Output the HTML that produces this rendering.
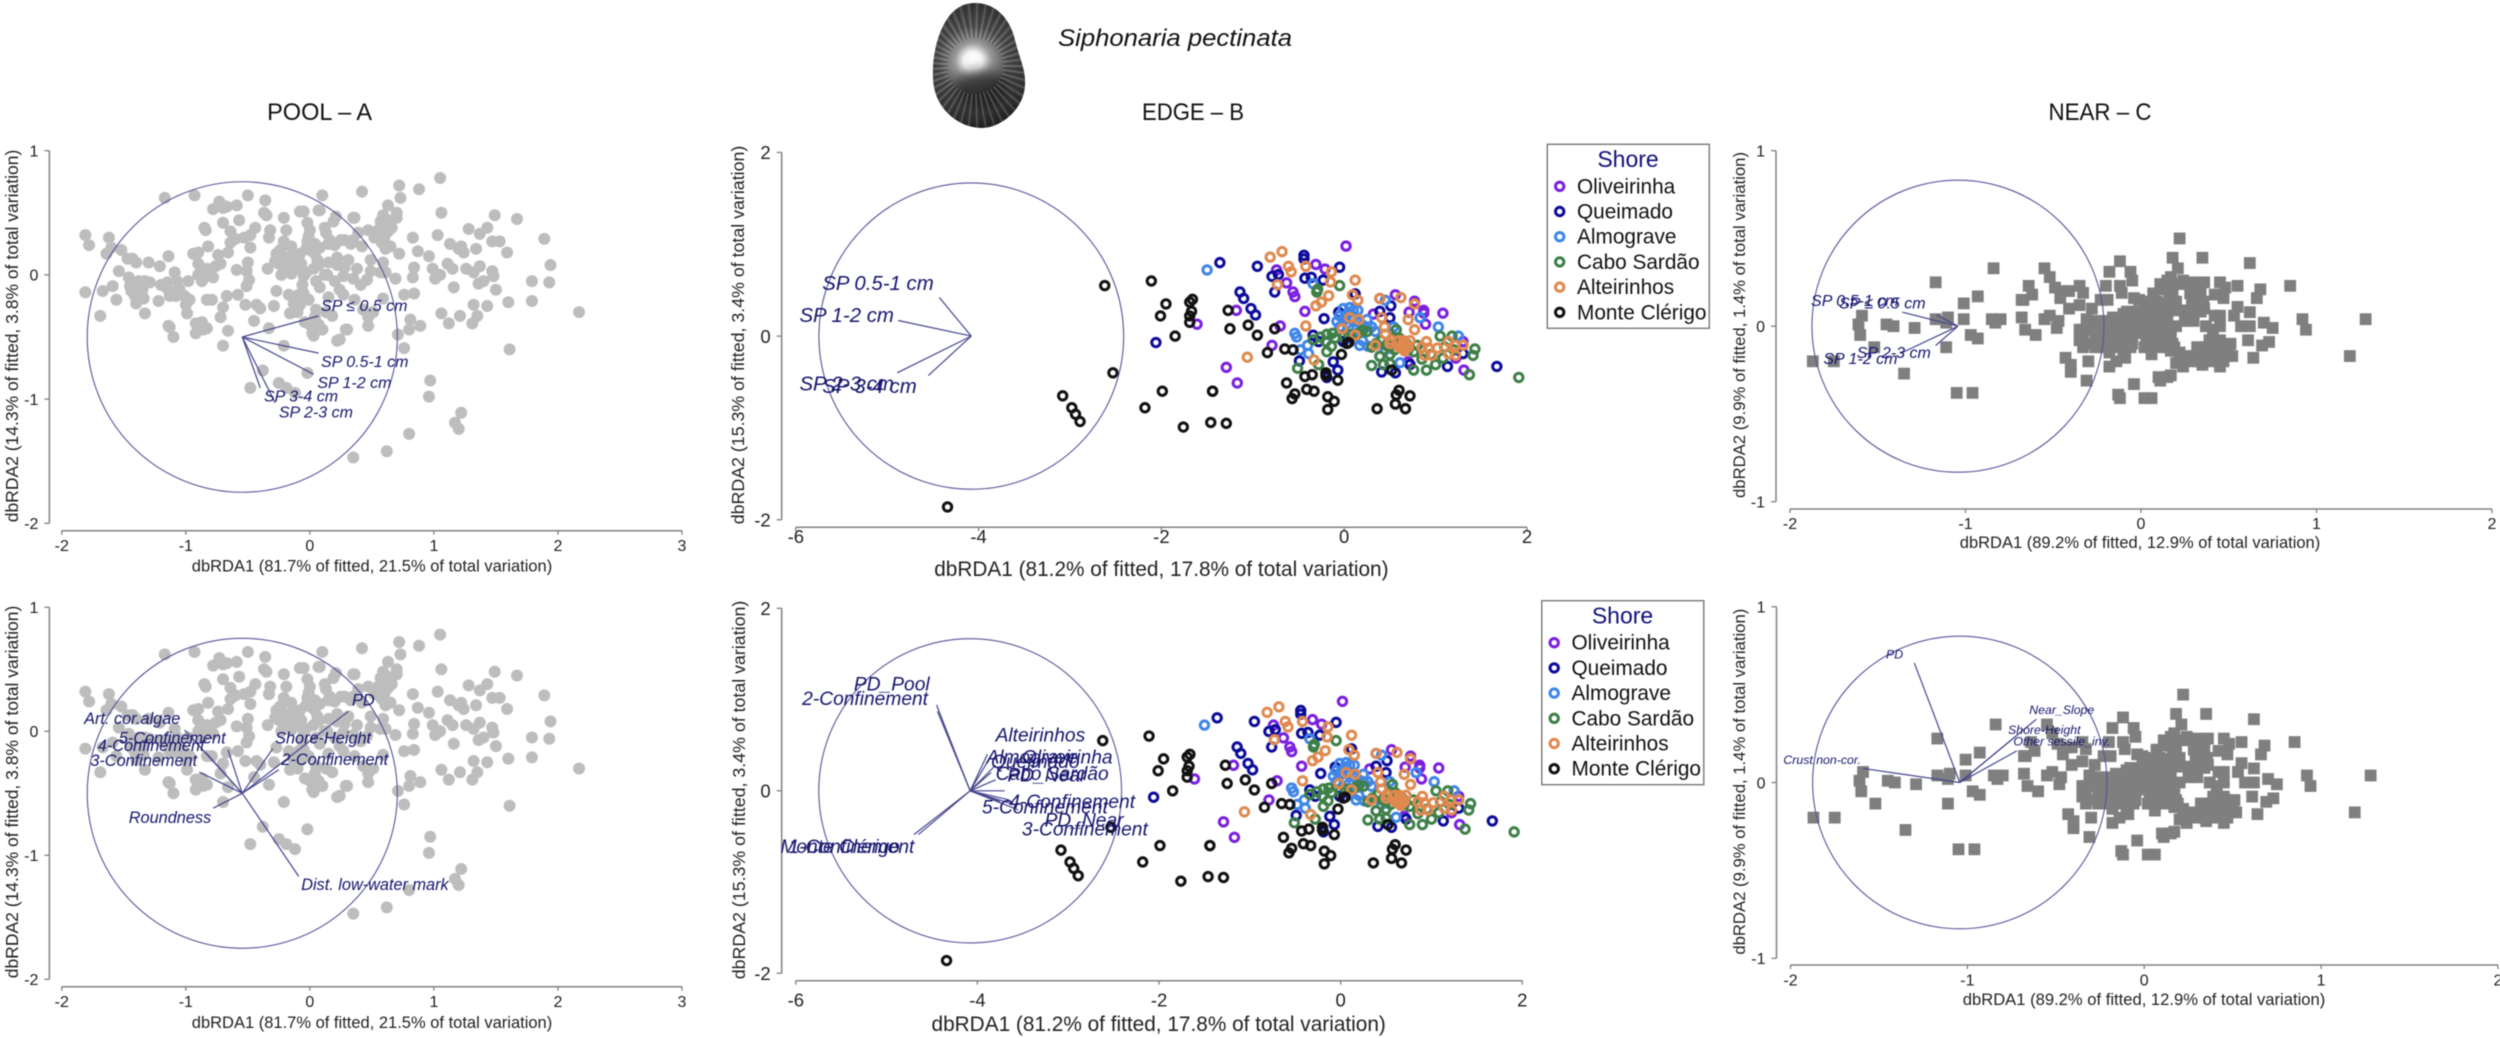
<!DOCTYPE html>
<html lang="en">
<head>
<meta charset="utf-8">
<title>Siphonaria pectinata dbRDA ordinations</title>
<style>
html,body{margin:0;padding:0;background:#fff;}
#chart-root{display:block;width:2500px;height:1038px;font-family:"Liberation Sans",sans-serif;filter:blur(0.55px);}
</style>
</head>
<body>
<svg id="chart-root" xmlns="http://www.w3.org/2000/svg" width="2500" height="1038" viewBox="0 0 2500 1038">
<defs>
<radialGradient id="shell-grad" gradientUnits="userSpaceOnUse" cx="973" cy="61" r="70">
<stop offset="0" stop-color="#ffffff"/><stop offset=".13" stop-color="#f5f5f5"/><stop offset=".26" stop-color="#9a9a9a"/><stop offset=".5" stop-color="#505050"/><stop offset=".8" stop-color="#363636"/><stop offset="1" stop-color="#1c1c1c"/>
</radialGradient>
<filter id="shell-soft" x="-30%" y="-30%" width="160%" height="160%"><feGaussianBlur stdDeviation="6"/></filter>
<clipPath id="shell-clip"><path d="M975 3C1000 3 1012 25 1015 40C1020 60 1026 70 1025 85C1024 110 1000 128 982 128C960 128 934 110 933 78C932 55 938 30 950 15C958 6 966 3 975 3Z"/></clipPath>
</defs>
<g id="shell">
<path d="M975 3C1000 3 1012 25 1015 40C1020 60 1026 70 1025 85C1024 110 1000 128 982 128C960 128 934 110 933 78C932 55 938 30 950 15C958 6 966 3 975 3Z" fill="url(#shell-grad)"/>
<ellipse cx="981" cy="90" rx="28" ry="20" fill="#1a1a1a" opacity=".7" filter="url(#shell-soft)" clip-path="url(#shell-clip)"/>
<g id="shell-ribs" clip-path="url(#shell-clip)"></g>
</g>
<text x="1058" y="46" font-size="24" font-style="italic" textLength="234" lengthAdjust="spacingAndGlyphs" fill="#111">Siphonaria pectinata</text>
<text x="319.6" y="120" font-size="24" text-anchor="middle" textLength="105" lengthAdjust="spacingAndGlyphs" fill="#111">POOL – A</text>
<text x="1193" y="120" font-size="24" text-anchor="middle" textLength="102" lengthAdjust="spacingAndGlyphs" fill="#111">EDGE – B</text>
<text x="2100" y="120" font-size="24" text-anchor="middle" textLength="103" lengthAdjust="spacingAndGlyphs" fill="#111">NEAR – C</text>
<g id="panels"></g>
<g id="legends"></g>
</svg>
<script>
// ---------- scatter scores (dbRDA1, dbRDA2) ----------
const poolScores = [[-1.81,.32],[-1.78,.24],[-1.62,.30],[-1.64,.17],[-1.60,.22],[-1.52,.20],[-1.47,.13],[-1.43,.13],[-1.40,.10],[-1.30,.10],[-1.21,.07],[-1.14,.15],[-1.54,.03],[-1.59,-.09],[-1.46,-.02],[-1.45,-.09],[-1.42,-.07],[-1.38,-.05],[-1.33,-.05],[-1.29,-.06],[-1.81,-.14],[-1.67,-.13],[-1.56,-.20],[-1.69,-.33],[-1.41,-.17],[-1.40,-.23],[-1.34,-.19],[-1.33,-.31],[-1.22,-.21],[-1.20,-.08],[-1.15,-.11],[-1.13,-.17],[-1.08,-.17],[-1.09,.02],[-1.07,-.05],[-.98,-.05],[-1.01,-.17],[-.97,-.20],[-1.00,-.24],[-.99,-.31],[-1.14,-.41],[-1.13,-.42],[-1.10,-.50],[-.94,.17],[-.90,.18],[-.90,.09],[-.90,0],[-.86,.04],[-.87,-.05],[-.82,.01],[-.78,-.02],[-.82,.23],[-.85,.38],[-.84,.36],[-.74,.16],[-.72,.09],[-.76,.07],[-.66,.18],[-.64,.26],[-.60,.29],[-.53,.30],[-.64,.35],[-.44,.38],[-.48,.32],[-.48,.22],[-.50,.10],[-.51,.03],[-.59,.04],[-.49,-.04],[-.51,-.09],[-.34,.05],[-.58,-.16],[-.67,-.17],[-.83,-.20],[-.79,-.20],[-.70,-.26],[-.72,-.34],[-.52,-.24],[-.43,-.24],[-.40,-.27],[-.29,-.25],[-.45,-.37],[-.66,-.45],[-.70,-.57],[-.92,-.39],[-.87,-.38],[-.83,-.43],[-.92,-.47],[-.86,-.44],[-.33,-.43],[-.21,-.57],[-.38,-.77],[-.02,-.79],[-.25,-.87],[-.19,-.91],[-.12,-.95],[-.48,-.91],[-1.17,.62],[-.93,.64],[-.73,.59],[-.78,.53],[-.70,.54],[-.67,.55],[-.59,.56],[-.50,.64],[-.36,.60],[-.37,.50],[-.35,.48],[-.70,.42],[-.57,.44],[-.21,.46],[-.08,.51],[-.05,.51],[.07,.52],[.10,.64],[-.02,.42],[-.19,.36],[-.32,.36],[-.33,.30],[0,.36],[-.01,.31],[.12,.38],[.15,.25],[-.21,.27],[-.19,.24],[-.27,.17],[-.15,.23],[-.08,.17],[-.02,.27],[.04,.17],[-.25,.09],[-.07,.09],[-.16,.07],[-.23,0],[-.15,.01],[-.05,-.01],[-.06,-.08],[.05,-.05],[.07,.08],[.14,0],[-.27,-.13],[-.17,-.16],[-.09,-.16],[-.01,-.20],[-.13,-.23],[-.08,-.24],[-.16,-.31],[-.10,-.30],[-.04,-.38],[.04,-.34],[.07,-.40],[.02,-.47],[.03,-.49],[.10,-.44],[1.05,.78],[.42,.67],[.72,.72],[.88,.69],[.73,.62],[.63,.56],[.35,.46],[.70,.50],[.70,.46],[.59,.48],[.57,.43],[.63,.44],[.61,.38],[.57,.32],[.63,.35],[1.06,.50],[1.49,.48],[1.67,.45],[1.28,.37],[1.43,.38],[1.37,.33],[1.47,.27],[1.53,.27],[1.89,.29],[1.59,.18],[1.03,.32],[.83,.30],[.87,.19],[.96,.15],[1.13,.25],[1.20,.21],[1.22,.23],[1.24,.18],[1.34,.21],[1.94,.08],[.72,.17],[.65,.23],[.61,.21],[.47,.36],[.39,.34],[.35,.28],[.28,.28],[.16,.28],[.19,.43],[.42,.23],[.49,.12],[.59,.10],[.61,.02],[.57,.02],[.49,.03],[.46,-.04],[.41,-.08],[.38,.05],[.35,-.03],[.31,.12],[.22,.08],[.27,-.01],[.69,-.03],[.84,.06],[.83,-.02],[.99,.05],[1.05,0],[1.01,-.03],[1.11,.09],[1.15,.05],[1.26,.05],[1.32,.02],[1.37,.07],[1.47,.03],[1.48,-.01],[1.79,-.05],[1.93,-.06],[1.36,-.07],[1.40,-.05],[1.16,-.10],[1.50,-.12],[.76,-.16],[.84,-.15],[1.79,-.21],[1.60,-.22],[2.17,-.30],[1.32,-.24],[1.43,-.25],[1.06,-.31],[1.21,-.33],[1.35,-.33],[1.12,-.39],[1.31,-.39],[.81,-.36],[.89,-.41],[.80,-.44],[.71,-.48],[.76,-.59],[1.61,-.60],[.97,-.85],[.96,-.98],[1.22,-1.11],[1.17,-1.19],[1.20,-1.24],[.80,-1.28],[.62,-1.42],[.35,-1.47],[.24,-.12],[.36,-.20],[.59,-.19],[.43,-.28],[.47,-.34],[.47,-.41],[.29,-.44],[.22,-.53],[.51,-.30],[.24,-.52],[.30,-.44],[.10,-.44],[.03,-.48],[.20,.24],[.25,.28],[.15,.10],[.20,-.05],[.12,0],[.28,.06],[.08,-.10],[.27,-.16],[.15,-.18],[.18,-.33],[.13,-.30],[.05,-.28],[.13,.34],[.22,.14],[.33,.25],[.21,.47],[.36,.46],[.08,.52],[-.24,.20],[-.22,.13],[-.18,.14],[-.13,.17],[-.28,.11],[-.20,.08],[-.12,.10],[-.10,.05],[-.03,.21],[0,.20],[.04,.25],[.08,.22],[.06,.12],[.03,.05],[-.03,.02],[-.88,.03],[-.85,-.02],[-.83,.05],[-.10,-.20],[-.05,-.15],[0,-.40],[.05,-.42],[.55,.36],[.60,.42],[.66,.38],[.60,.30],[.52,.30],[.58,.26],[-1.44,-.13],[-1.38,-.20],[-1.35,-.12],[-1.10,-.14],[-1.05,-.12],[-1.15,-.06]];

const edgeOliveirinha = [[.02,.98],[-.74,.72],[-.31,.78],[-.21,.73],[-.63,.58],[-.56,.48],[-.54,.43],[-.43,.27],[-1.18,.28],[-1.61,.13],[-.70,.11],[-.79,-.10],[-1.29,-.34],[-1.17,-.51],[.32,.24],[.56,.45],[.77,.38],[.71,.26],[.87,.28],[.87,.25],[1.08,.25],[.89,.13],[.39,-.22],[.70,-.28],[1.31,-.37],[1.30,-.06],[1.22,-.24]];
const edgeQueimado = [[-1.36,.80],[-.95,.76],[-.44,.88],[-.44,.84],[-.05,.75],[-.79,.65],[-.72,.67],[-.76,.48],[-.43,.63],[-.36,.64],[-.23,.61],[-1.14,.48],[-1.10,.41],[-1.02,.30],[-.97,.23],[-.22,.19],[-.06,.26],[.12,.46],[.39,.27],[.51,.33],[.50,.20],[-.34,.01],[-.28,-.06],[-.01,-.06],[-.49,-.27],[-.12,-.28],[-.07,-.37],[-.19,-.45],[.41,-.39],[.56,-.40],[.72,-.31],[1.13,-.33],[1.30,-.19],[1.67,-.33],[-2.06,-.07]];
const edgeAlmograve = [[-1.50,.72],[-.34,.57],[.39,.41],[.45,.39],[-.54,.03],[-.52,-.01],[-.48,-.15],[-.39,-.19],[-.01,.30],[.06,.31],[.15,.28],[-.08,.16],[.03,.14],[.25,.18],[.34,.05],[.17,-.10],[.26,-.11],[.83,.20],[1.03,.10],[1.25,0],[.61,-.29],[.54,.10],[.10,0],[-.05,.10],[.03,.23],[0,.20],[.05,.25],[.10,.20],[.15,.15],[.20,.12],[.25,.10],[.30,.10],[.10,.28],[.05,.10],[-.05,.22],[-.40,-.10],[.20,-.05],[.45,-.15]];
const edgeCaboSardao = [[-.29,.51],[-.30,.48],[-.05,.55],[-.34,-.04],[-.26,-.01],[-.19,.02],[-.13,.03],[.20,.06],[-.14,-.11],[-.19,-.17],[-.51,-.35],[-.28,-.31],[.30,-.32],[.43,-.31],[.39,-.22],[.50,-.20],[.57,.07],[.61,-.06],[.76,-.17],[.76,-.37],[.90,-.37],[1.00,-.31],[1.08,-.24],[1.05,0],[1.18,0],[1.43,-.14],[1.41,-.21],[1.37,-.42],[1.91,-.45],[.35,-.08],[.46,-.10],[.54,-.02],[.68,-.08],[.40,-.05],[.50,-.10],[.55,-.15],[.60,-.02],[.70,-.15],[.80,-.10],[.85,-.25],[.95,-.20],[1.10,-.12],[1.20,-.15],[.30,-.12],[.50,-.30],[-.20,-.06],[-.10,-.02],[0,0],[.05,.02],[.15,.03],[.25,.05]];
const edgeAlteirinhos = [[-.81,.86],[-.68,.92],[-.61,.76],[-.58,.70],[-.42,.76],[-.73,.56],[-.14,.70],[-.15,.59],[.12,.61],[.09,.45],[.15,.39],[-.17,.44],[-.25,.37],[-.31,.33],[-.42,.11],[-1.06,-.23],[-.33,-.26],[.06,.20],[.16,.18],[-.02,.08],[.12,.01],[.41,.20],[.44,.10],[.39,.41],[.62,.42],[.77,.35],[.70,.18],[.77,.07],[.34,-.10],[.45,.02],[.51,-.04],[.50,-.08],[.63,-.10],[.67,-.08],[.68,-.11],[.65,-.13],[.85,-.12],[.90,-.06],[.92,-.13],[.88,-.21],[.96,-.21],[1.02,-.13],[1.14,-.06],[1.21,-.10],[1.14,-.19],[1.22,-.21],[1.30,-.10],[.60,-.05],[.65,-.05],[.70,-.12],[.60,-.12],[.66,-.16],[.72,-.05]];
const edgeMonteClerigo = [[-1.66,.40],[-1.69,.37],[-1.67,.27],[-1.69,.22],[-1.69,.15],[-1.27,.28],[-1.25,.08],[-1.05,.12],[-.95,.01],[-.76,.08],[-.84,-.18],[-.65,-.14],[-.56,-.15],[.05,-.07],[.03,-.08],[-.03,-.20],[-.63,-.51],[-.43,-.44],[-.35,-.42],[-.20,-.40],[-.20,-.43],[-.07,-.48],[-.54,-.63],[-.57,-.68],[-.41,-.58],[-.33,-.60],[-.18,-.66],[-.11,-.71],[-.18,-.80],[.36,-.79],[.52,-.37],[.60,-.59],[.57,-.64],[.72,-.65],[.56,-.74],[.67,-.79],[-1.44,-.60],[-1.46,-.94],[-1.29,-.95],[-1.76,-.99],[-2.62,.55],[-2.11,.60],[-1.95,.35],[-2.01,.22],[-1.85,0],[-2.53,-.40],[-1.99,-.60],[-3.08,-.65],[-2.98,-.78],[-2.94,-.85],[-2.89,-.93],[-2.18,-.78],[-1.44,-.60],[-4.34,-1.86]];

const nearScores = [[.22,.50],[.35,.39],[.62,.36],[.85,.23],[1.28,.04],[1.19,-.17],[.92,.04],[.94,-.02],[.18,.39],[.21,.33],[-.12,.37],[-.18,.31],[-.06,.31],[-.05,.26],[-.20,.23],[-.12,.23],[-.11,.19],[-.55,.33],[-.52,.28],[-.49,.22],[-.44,.20],[-.41,.20],[-.35,.23],[-.33,.19],[-.46,.16],[-.35,.12],[-.41,.10],[-.64,.23],[-.62,.18],[-.67,.15],[-.52,.06],[-.55,.04],[-.47,.03],[-.48,-.01],[-.68,.05],[-.66,-.02],[-.60,-.05],[-.28,.10],[-.23,.15],[-.19,.15],[-.04,.16],[-.01,.15],[.07,.18],[.11,.24],[.15,.26],[.17,.28],[.24,.26],[.30,.25],[.36,.25],[.45,.25],[.48,.22],[.55,.23],[.68,.21],[.66,.16],[.42,.18],[.47,.16],[.55,.11],[.62,.08],[.70,.02],[.75,-.01],[.73,-.09],[.69,-.11],[.61,-.08],[.64,-.18],[.62,0],[.57,0],[.45,.06],[.53,.06],[.37,0],[.45,0],[.13,.21],[.16,.18],[.30,.20],[.32,.15],[.36,.10],[.15,.13],[-.35,-.02],[-.35,-.08],[-.31,.04],[-.28,-.02],[-.29,-.10],[-.21,0],[-.18,.02],[-.14,-.04],[-.10,.07],[-.06,.02],[-.02,.04],[.01,.05],[.05,0],[.09,.04],[-.12,-.10],[-.08,-.06],[-.04,0],[-.16,.05],[-.23,-.06],[-.01,-.04],[.03,-.08],[.07,-.10],[.11,-.06],[.15,-.04],[.20,0],[.18,-.10],[-.18,-.15],[-.10,-.14],[.06,-.16],[-.05,-.10],[-.43,-.18],[-.40,-.22],[-.40,-.26],[-.30,-.20],[-.31,-.31],[-.18,-.23],[-.14,-.20],[-.09,-.18],[.22,-.15],[.20,-.21],[.24,-.23],[.17,-.14],[.32,-.12],[.39,-.08],[.45,-.08],[.51,-.10],[.52,-.17],[.47,-.15],[.43,-.12],[.36,-.15],[.38,-.19],[.30,-.17],[.35,-.22],[.45,-.23],[.41,-.02],[.10,-.29],[.15,-.29],[.11,-.31],[.17,-.28],[-.04,-.33],[-.13,-.39],[-.12,-.41],[.02,-.41],[.06,-.41],[.26,.09],[.20,.09],[.11,.13],[.05,.11],[-1.87,-.20],[-1.75,-.20],[-1.59,.06],[-1.61,.01],[-1.60,-.05],[-1.45,.01],[-1.41,0],[-1.29,-.01],[-1.52,-.12],[-1.35,-.27],[-1.17,.25],[-1.17,.04],[-1.10,.05],[-1.11,.02],[-1.01,.13],[-1.01,.04],[-.93,.17],[-.97,-.05],[-.93,-.07],[-1.11,-.12],[-1.05,-.38],[-.96,-.38],[-.84,.33],[-.85,.04],[-.80,.04],[-.83,.02],[-.68,.15],[.165,.24],[.22,.24],[.28,.24],[.335,.24],[.07,.187],[.18,.187],[.28,.187],[.34,.187],[.03,.14],[.09,.14],[.20,.14],[.29,.14],[.355,.14],[-.08,.083],[-.025,.083],[.03,.083],[.09,.083],[.15,.083],[.28,.083],[.34,.083],[-.30,.03],[-.25,.03],[-.20,.03],[-.15,.03],[-.10,.03],[-.05,.03],[0,.03],[.05,.03],[.10,.03],[.15,.03],[.25,.03],[.30,.03],[-.33,-.02],[-.25,-.02],[-.20,-.02],[-.15,-.02],[-.10,-.02],[-.07,-.02],[-.02,-.02],[.02,-.02],[.08,-.02],[.12,-.02],[.17,-.02],[-.33,-.07],[-.26,-.07],[-.20,-.07],[-.16,-.07],[-.10,-.07],[-.05,-.07],[.05,-.07],[.09,-.07],[.13,-.07],[.17,-.07],[-.33,-.12],[-.26,-.12],[-.21,-.12],[-.16,-.12],[-.10,-.12],[-.06,-.12],[.02,-.12],[.05,-.12],[.10,-.12],[.15,-.12],[.19,-.12],[.33,-.12],[.37,-.12],[.41,-.12],[.46,-.12],[.50,-.12],[.22,-.17],[.26,-.17],[.31,-.17],[.35,-.17],[.40,-.17],[.44,-.17],[.49,-.17],[.23,-.20],[.28,-.20],[.33,-.20],[.41,-.20],[.47,-.20],[.42,.06]];

// ---------- biplot vectors: [label, arrow end x, arrow end y, label x, label y] ----------
const poolSizeVectors = [["SP ≤ 0.5 cm",.07,-.33,.09,-.29],["SP 0.5-1 cm",.07,-.63,.09,-.74],["SP 1-2 cm",.03,-.80,.06,-.91],["SP 3-4 cm",-.40,-.91,-.37,-1.02],["SP 2-3 cm",-.28,-1.03,-.25,-1.15]];
const poolEnvVectors = [["PD",.31,.16,.34,.21],["Shore-Height",-.30,-.14,-.28,-.10],["2-Confinement",-.25,-.31,-.23,-.27],["Art. cor.algae",-1.01,.01,-1.82,.06],["5-Confinement",-.66,-.15,-1.54,-.10],["4-Confinement",-.84,-.17,-1.71,-.16],["3-Confinement",-.89,-.33,-1.77,-.28],["Roundness",-.78,-.62,-1.46,-.74],["Dist. low-water mark",-.09,-1.17,-.07,-1.28]];
const edgeSizeVectors = [["SP 0.5-1 cm",-4.43,.42,-5.71,.50],["SP 1-2 cm",-4.88,.17,-5.96,.155],["SP 2-3 cm",-4.89,-.40,-5.96,-.59],["SP 3-4 cm",-4.55,-.43,-5.71,-.62]];
const edgeEnvVectors = [["PD_Pool",-4.44,.87,-5.36,1.10],["2-Confinement",-4.45,.94,-5.93,.94],["Alteirinhos",-3.89,.40,-3.80,.54],["Almograve",-3.90,.30,-3.90,.30],["Oliveirinha",-3.80,.28,-3.51,.30],["Queimado",-3.85,.20,-3.85,.25],["Cabo Sardão",-3.80,.12,-3.80,.12],["PD_Near",-3.70,0,-3.67,.10],["4-Confinement",-3.65,-.10,-3.65,-.19],["5-Confinement",-3.75,-.12,-3.95,-.25],["PD_Near",-3.55,-.21,-3.26,-.39],["3-Confinement",-3.60,-.15,-3.51,-.49],["Monte Clérigo",-4.70,-.48,-6.17,-.68],["1-Confinement",-4.65,-.48,-6.08,-.68]];
const nearSizeVectors = [["SP 0.5-1 cm",-1.36,.08,-1.88,.115],["SP ≤ 0.5 cm",-1.165,.065,-1.72,.10],["SP 2-3 cm",-1.17,-.11,-1.62,-.18],["SP 1-2 cm",-1.37,-.155,-1.81,-.215]];
const nearEnvVectors = [["Crust.non-cor.",-1.59,.08,-2.04,.105],["PD",-1.30,.68,-1.46,.705],["Near_Slope",-.61,.36,-.65,.39],["Shore-Height",-.73,.26,-.77,.275],["Other sessile_inv.",-.72,.18,-.74,.21]];

// ---------- axis ticks ----------
const poolXTicks = [-2,-1,0,1,2,3];
const poolYTicks = [1,0,-1,-2];
const edgeXTicks = [-6,-4,-2,0,2];
const edgeYTicks = [2,0,-2];
const nearXTicks = [-2,-1,0,1,2];
const nearYTicks = [1,0,-1];

// ---------- legend ----------
const shoreNames = ["Oliveirinha","Queimado","Almograve","Cabo Sardão","Alteirinhos","Monte Clérigo"];
const shoreColors = ["#7a1fe0","#0c0c9a","#3f86e8","#3e7f48","#e0894f","#111111"];
const edgeShoreScores = [edgeOliveirinha,edgeQueimado,edgeAlmograve,edgeCaboSardao,edgeAlteirinhos,edgeMonteClerigo];

const NS = "http://www.w3.org/2000/svg";
function el(tag, attrs, parent) {
  const n = document.createElementNS(NS, tag);
  for (const k in attrs) n.setAttribute(k, attrs[k]);
  parent.appendChild(n);
  return n;
}

function linearScale(d0, d1, r0, r1) {
  return function (v) { return r0 + (v - d0) * (r1 - r0) / (d1 - d0); };
}

function drawPanel(root, cfg) {
  const g = el("g", {}, root);
  
  
  const sx = linearScale(cfg.xDomain[0], cfg.xDomain[1], cfg.xRange[0], cfg.xRange[1]);
  const sy = linearScale(cfg.yDomain[0], cfg.yDomain[1], cfg.yRange[0], cfg.yRange[1]);
  const axisColor = "#808080";

  const xAxis = el("line", {x1: cfg.xRange[0], x2: cfg.xRange[1], y1: cfg.axisY, y2: cfg.axisY, stroke: axisColor, "stroke-width": 1.5}, g);
  
  
  const yAxis = el("line", {x1: cfg.axisX, x2: cfg.axisX, y1: cfg.yRange[0], y2: cfg.yRange[1], stroke: axisColor, "stroke-width": 1.5}, g);
  
  

  cfg.xTicks.forEach(function (t) {
    const m = el("line", {x1: sx(t), x2: sx(t), y1: cfg.axisY, y2: cfg.axisY + 4, stroke: axisColor, "stroke-width": 1.3}, g);
    
    
    const l = el("text", {x: sx(t), y: cfg.xTickY, "font-size": cfg.tickFont, "text-anchor": "middle", fill: "#222"}, g);
    
    
    l.textContent = String(t);
  });
  cfg.yTicks.forEach(function (t) {
    const m = el("line", {x1: cfg.axisX - 5, x2: cfg.axisX, y1: sy(t), y2: sy(t), stroke: axisColor, "stroke-width": 1.3}, g);
    
    
    const l = el("text", {x: cfg.axisX - 11, y: sy(t) + cfg.tickFont * 0.36, "font-size": cfg.tickFont, "text-anchor": "end", fill: "#222"}, g);
    
    
    l.textContent = String(t);
  });

  const xt = el("text", {x: cfg.xTitleX, y: cfg.xTitleY, "font-size": cfg.xTitleFont, "text-anchor": "middle", fill: "#222"}, g);
  
  
  xt.textContent = cfg.xTitle;
  const yt = el("text", {transform: "translate(" + cfg.yTitleX + "," + cfg.yTitleY + ") rotate(-90)", "font-size": cfg.yTitleFont, "text-anchor": "middle", fill: "#222"}, g);
  
  
  yt.textContent = cfg.yTitle;

  cfg.series.forEach(function (s) {
    s.points.forEach(function (p) {
      if (s.kind === "dot") {
        const c = el("circle", {cx: sx(p[0]), cy: sy(p[1]), r: 6, fill: s.color}, g);
        
        
      } else if (s.kind === "square") {
        const r = el("rect", {x: sx(p[0]) - 5.9, y: sy(p[1]) - 5.9, width: 11.8, height: 11.8, fill: s.color}, g);
        
        
      } else {
        const o = el("circle", {cx: sx(p[0]), cy: sy(p[1]), r: 4.2, fill: "none", stroke: s.color, "stroke-width": 3}, g);
        
        
      }
    });
  });

  const unit = el("ellipse", {cx: sx(cfg.origin[0]), cy: sy(cfg.origin[1]), rx: Math.abs(sx(cfg.radius) - sx(0)), ry: Math.abs(sy(cfg.radius) - sy(0)), fill: "none", stroke: "#55559a", "stroke-width": 1.1}, g);
  
  

  cfg.vectors.forEach(function (v) {
    const a = el("line", {x1: sx(cfg.origin[0]), y1: sy(cfg.origin[1]), x2: sx(v[1]), y2: sy(v[2]), stroke: "#45458f", "stroke-width": 1.2}, g);
    
    
  });
  cfg.vectors.forEach(function (v) {
    const t = el("text", {x: sx(v[3]), y: sy(v[4]), "font-size": cfg.vectorFont, "font-style": "italic", fill: "#15156e"}, g);
    
    
    t.textContent = v[0];
  });
}

const panelRoot = document.getElementById("panels");
const poolSeries = [{kind: "dot", color: "#bdbdbd", points: poolScores}];
const nearSeries = [{kind: "square", color: "#7f7f7f", points: nearScores}];
const edgeSeries = edgeShoreScores.map(function (pts, i) { return {kind: "ring", color: shoreColors[i], points: pts}; });

const poolXTitle = "dbRDA1 (81.7% of fitted, 21.5% of total variation)";
const poolYTitle = "dbRDA2 (14.3% of fitted, 3.8% of total variation)";
const edgeXTitle = "dbRDA1 (81.2% of fitted, 17.8% of total variation)";
const edgeYTitle = "dbRDA2 (15.3% of fitted, 3.4% of total variation)";
const nearXTitle = "dbRDA1 (89.2% of fitted, 12.9% of total variation)";
const nearYTitle = "dbRDA2 (9.9% of fitted, 1.4% of total variation)";

drawPanel(panelRoot, {name: "pool-size-panel", xDomain: [-2,3], xRange: [61.8,682], yDomain: [1,-2], yRange: [150.7,523.3], axisX: 49.4, axisY: 530.7, xTicks: poolXTicks, yTicks: poolYTicks, tickFont: 16, xTickY: 551, xTitle: poolXTitle, xTitleX: 372, xTitleY: 571.5, xTitleFont: 16.5, yTitle: poolYTitle, yTitleX: 18, yTitleY: 336, yTitleFont: 17.5, origin: [-.545,-.5], radius: 1.25, series: poolSeries, vectors: poolSizeVectors, vectorFont: 16});
drawPanel(panelRoot, {name: "pool-environment-panel", xDomain: [-2,3], xRange: [61.8,682], yDomain: [1,-2], yRange: [607.3,979.3], axisX: 49.4, axisY: 986.7, xTicks: poolXTicks, yTicks: poolYTicks, tickFont: 16, xTickY: 1007, xTitle: poolXTitle, xTitleX: 372, xTitleY: 1028, xTitleFont: 16.5, yTitle: poolYTitle, yTitleX: 18, yTitleY: 792, yTitleFont: 17.5, origin: [-.545,-.5], radius: 1.25, series: poolSeries, vectors: poolEnvVectors, vectorFont: 16.3});
drawPanel(panelRoot, {name: "edge-size-panel", xDomain: [-6,2], xRange: [795.8,1527], yDomain: [2,-2], yRange: [152.4,519.8], axisX: 781.7, axisY: 527.2, xTicks: edgeXTicks, yTicks: edgeYTicks, tickFont: 18.5, xTickY: 543, xTitle: edgeXTitle, xTitleX: 1161.4, xTitleY: 576, xTitleFont: 20.8, yTitle: edgeYTitle, yTitleX: 744, yTitleY: 335, yTitleFont: 17.8, origin: [-4.08,0], radius: 1.667, series: edgeSeries, vectors: edgeSizeVectors, vectorFont: 20.4});
drawPanel(panelRoot, {name: "edge-environment-panel", xDomain: [-6,2], xRange: [795.8,1522.3], yDomain: [2,-2], yRange: [608.3,973.3], axisX: 781.7, axisY: 980.7, xTicks: edgeXTicks, yTicks: edgeYTicks, tickFont: 18.5, xTickY: 1006.7, xTitle: edgeXTitle, xTitleX: 1158.7, xTitleY: 1031, xTitleFont: 20.8, yTitle: edgeYTitle, yTitleX: 745, yTitleY: 790, yTitleFont: 17.8, origin: [-4.08,0], radius: 1.667, series: edgeSeries, vectors: edgeEnvVectors, vectorFont: 19.2});
drawPanel(panelRoot, {name: "near-size-panel", xDomain: [-2,2], xRange: [1790,2492], yDomain: [1,-1], yRange: [150.7,501.7], axisX: 1776, axisY: 509, xTicks: nearXTicks, yTicks: nearYTicks, tickFont: 16, xTickY: 529, xTitle: nearXTitle, xTitleX: 2140, xTitleY: 548, xTitleFont: 16.5, yTitle: nearYTitle, yTitleX: 1745, yTitleY: 325, yTitleFont: 16.7, origin: [-1.043,0], radius: .832, series: nearSeries, vectors: nearSizeVectors, vectorFont: 16});
drawPanel(panelRoot, {name: "near-environment-panel", xDomain: [-2,2], xRange: [1790.5,2498], yDomain: [1,-1], yRange: [606.7,958.3], axisX: 1776.5, axisY: 965, xTicks: nearXTicks, yTicks: nearYTicks, tickFont: 16, xTickY: 985.7, xTitle: nearXTitle, xTitleX: 2144, xTitleY: 1005, xTitleFont: 16.6, yTitle: nearYTitle, yTitleX: 1745, yTitleY: 781.7, yTitleFont: 16.7, origin: [-1.043,0], radius: .832, series: nearSeries, vectors: nearEnvVectors, vectorFont: 12.3});

function drawLegend(root, dx, dy) {
  const g = el("g", {transform: "translate(" + dx + "," + dy + ")"}, root);
  
  
  const box = el("rect", {x: 1547.3, y: 144.3, width: 162, height: 184, fill: "#fff", stroke: "#777", "stroke-width": 1.4}, g);
  
  
  const title = el("text", {x: 1628, y: 167, "font-size": 23, "text-anchor": "middle", fill: "#10107a"}, g);
  
  
  title.textContent = "Shore";
  shoreNames.forEach(function (name, i) {
    const base = 193.3 + i * 25.2;
    const m = el("circle", {cx: 1559.7, cy: base - 7, r: 4.2, fill: "none", stroke: shoreColors[i], "stroke-width": 3}, g);
    
    
    const t = el("text", {x: 1577, y: base, "font-size": 20.8, fill: "#111"}, g);
    
    
    t.textContent = name;
  });
}
const legendRoot = document.getElementById("legends");
drawLegend(legendRoot, 0, 0);
drawLegend(legendRoot, -5.5, 456.4);

const ribRoot = document.getElementById("shell-ribs");
for (let deg = 0; deg < 360; deg += 4) {
  const a = deg * Math.PI / 180;
  const rib = el("line", {x1: 975 + 28 * Math.cos(a), y1: 66 + 28 * Math.sin(a), x2: 975 + 82 * Math.cos(a), y2: 66 + 82 * Math.sin(a), stroke: deg % 8 === 0 ? "#bdbdbd" : "#0e0e0e", "stroke-width": .9, "stroke-opacity": .4}, ribRoot);
  
  
}
</script>
</body>
</html>
